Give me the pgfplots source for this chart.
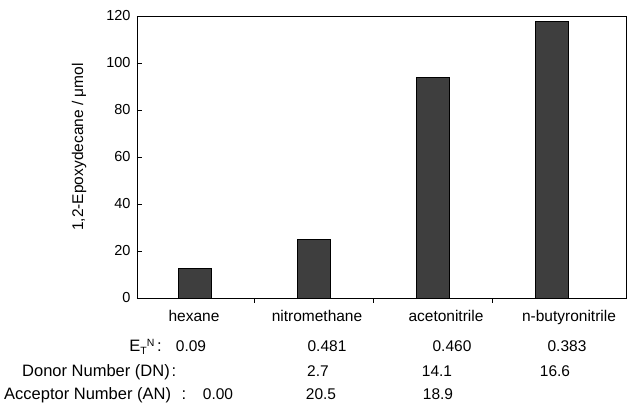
\documentclass[border=0pt]{standalone}
\usepackage{pgfplots}
\pgfplotsset{compat=1.18}
\usepackage{fontspec}
\setmainfont{Liberation Sans}
\definecolor{barc}{RGB}{62,62,62}
\begin{document}
\begin{tikzpicture}
\begin{axis}[
 scale only axis, width=489pt, height=282pt,
 xmin=-0.487, xmax=3.622, ymin=0, ymax=120,
 ytick={0,20,...,120}, xtick={0.5,1.5,2.5}, xticklabels={},
 tick align=inside, major tick length=5pt,
 xtick pos=bottom, ytick pos=left,
 ybar, bar width=33pt,
 tick label style={font=\fontsize{14.5}{14.5}\selectfont},
 yticklabel style={xshift=-3pt},
 /pgf/number format/assume math mode=true,
 axis line style={line width=0.7pt},
 tick style={line width=0.7pt, black},
 clip=false,
]
\addplot[fill=barc, draw=black, line width=0.8pt] coordinates {(0,12.5)(1,25)(2,94)(3,117.5)};
\coordinate (O) at (rel axis cs:0,0);
\end{axis}
\begin{scope}[shift={(O)}, xshift=-137pt, yshift=298pt, x=1pt, y=-1pt, every node/.style={font=\fontsize{15.5}{15.5}\selectfont, inner sep=0pt}]
\node[rotate=90] at (79,147) {1,2-Epoxydecane / μmol};
\node[anchor=base] at (194,322) {hexane};
\node[anchor=base] at (317,322) {nitromethane};
\node[anchor=base] at (446,322) {acetonitrile};
\node[anchor=base] at (569,322) {n-butyronitrile};
\node[anchor=base east] at (162,352) {\fontsize{16.5}{16.5}\selectfont E\raisebox{-3pt}{\fontsize{10.5}{10.5}\selectfont T}\raisebox{5pt}{\fontsize{10.5}{10.5}\selectfont N}\,:};
\node[anchor=base] at (191,352) {0.09};
\node[anchor=base] at (327,352) {0.481};
\node[anchor=base] at (452,352) {0.460};
\node[anchor=base] at (567,352) {0.383};
\node[anchor=base west, font=\fontsize{16.5}{16.5}\selectfont] at (22,377) {Donor Number (DN)};
\node[anchor=base, font=\fontsize{16.5}{16.5}\selectfont] at (174,377) {:};
\node[anchor=base] at (318,377) {2.7};
\node[anchor=base] at (437,377) {14.1};
\node[anchor=base] at (555,377) {16.6};
\node[anchor=base west, font=\fontsize{16.5}{16.5}\selectfont] at (4,400) {Acceptor Number (AN)};
\node[anchor=base, font=\fontsize{16.5}{16.5}\selectfont] at (184,400) {:};
\node[anchor=base] at (218,400) {0.00};
\node[anchor=base] at (321,400) {20.5};
\node[anchor=base] at (438,400) {18.9};
\pgfresetboundingbox
\path[use as bounding box] (0,0) rectangle (627,406);
\end{scope}
\end{tikzpicture}
\end{document}
